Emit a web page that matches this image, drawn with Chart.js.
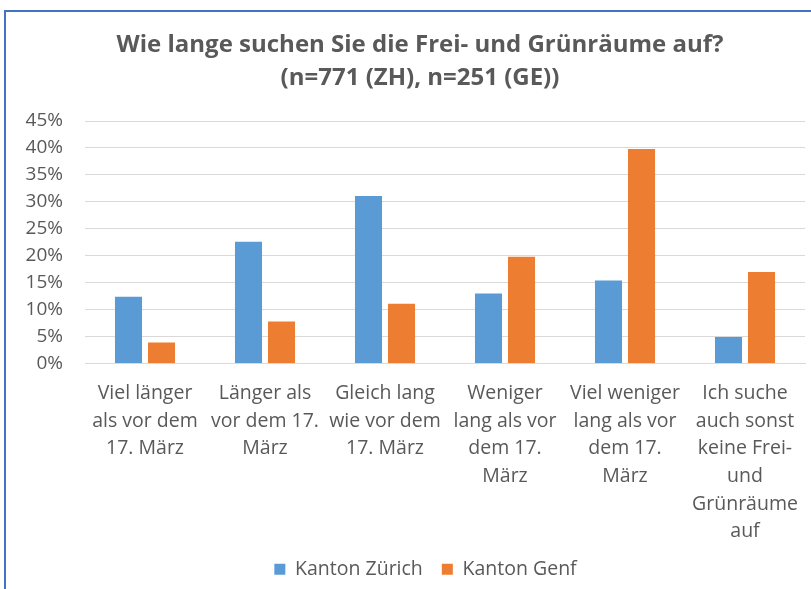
<!DOCTYPE html>
<html>
<head>
<meta charset="utf-8">
<script src="https://cdn.jsdelivr.net/npm/chart.js@4/dist/chart.umd.min.js"></script>
<style>
  html, body { margin: 0; padding: 0; background: #fff; overflow: hidden; }
  #frame { position: absolute; left: 4px; top: 10px; width: 1000px; height: 800px;
           border-left: 2px solid #4472C4; border-top: 2px solid #4472C4; }
  #wrap { position: absolute; left: 0; top: 0; width: 811px; height: 589px; }
</style>
</head>
<body>
<div id="frame"></div>
<div id="wrap"><canvas id="c" width="811" height="589"></canvas></div>
<script>
const titleLines = ["Wie lange suchen Sie die Frei- und Grünräume auf?", "(n=771 (ZH), n=251 (GE))"];
const categories = [
  ["Viel länger", "als vor dem", "17. März"],
  ["Länger als", "vor dem 17.", "März"],
  ["Gleich lang", "wie vor dem", "17. März"],
  ["Weniger", "lang als vor", "dem 17.", "März"],
  ["Viel weniger", "lang als vor", "dem 17.", "März"],
  ["Ich suche", "auch sonst", "keine Frei-", "und", "Grünräume", "auf"]
];
const seriesNames = ["Kanton Zürich", "Kanton Genf"];
const zurich = [12.4, 22.6, 31.1, 13.0, 15.4, 4.9];
const genf = [3.9, 7.8, 11.1, 19.8, 39.8, 17.0];
const yTickMin = 0, yTickMax = 45, yTickStep = 5;

const FONT = "'Open Sans', sans-serif";
const TEXT = "#595959";

const titlePlugin = {
  id: 'customTitle',
  afterLayout(chart) {
    // centre the legend under the frame like the reference
    if (chart.legend) { chart.legend.left += 18; chart.legend.right += 18; }
  },
  afterDraw(chart) {
    const ctx = chart.ctx;
    ctx.save();
    ctx.fillStyle = TEXT;
    ctx.font = "bold 24px " + FONT;
    ctx.textAlign = 'center';
    ctx.textBaseline = 'middle';
    titleLines.forEach((t, i) => ctx.fillText(t, 420, 45 + i * 33));
    ctx.restore();
  }
};

new Chart(document.getElementById('c'), {
  type: 'bar',
  data: {
    labels: categories,
    datasets: [
      { label: seriesNames[0], data: zurich, backgroundColor: '#5B9BD5', borderWidth: 0,
        categoryPercentage: 0.55, barPercentage: 0.82 },
      { label: seriesNames[1], data: genf, backgroundColor: '#ED7D31', borderWidth: 0,
        categoryPercentage: 0.55, barPercentage: 0.82 }
    ]
  },
  plugins: [titlePlugin],
  options: {
    responsive: false,
    animation: false,
    layout: { padding: { left: 10, right: 6, top: 121, bottom: 0 } },
    plugins: {
      title: { display: false },
      legend: {
        position: 'bottom',
        labels: {
          color: TEXT,
          font: { family: FONT, size: 19.5 },
          boxWidth: 11, boxHeight: 11,
          padding: 19
        }
      },
      tooltip: { enabled: false }
    },
    scales: {
      x: {
        grid: { display: false, drawTicks: true, tickLength: 13 },
        border: { display: true, color: '#d9d9d9', width: 1 },
        ticks: {
          color: TEXT, maxRotation: 0, autoSkip: false, padding: 3,
          font: { family: FONT, size: 19.5, lineHeight: 1.42 }
        },
        afterFit: (s) => { s.height = 177; }
      },
      y: {
        min: yTickMin, max: yTickMax,
        grid: { color: '#d9d9d9', lineWidth: 1, drawTicks: false },
        border: { display: false },
        ticks: {
          stepSize: yTickStep, color: TEXT, padding: 22, autoSkip: false,
          font: { family: FONT, size: 19 },
          callback: (v) => v + '%'
        },
        afterFit: (s) => { s.width = 75; }
      }
    }
  }
});
</script>
</body>
</html>
